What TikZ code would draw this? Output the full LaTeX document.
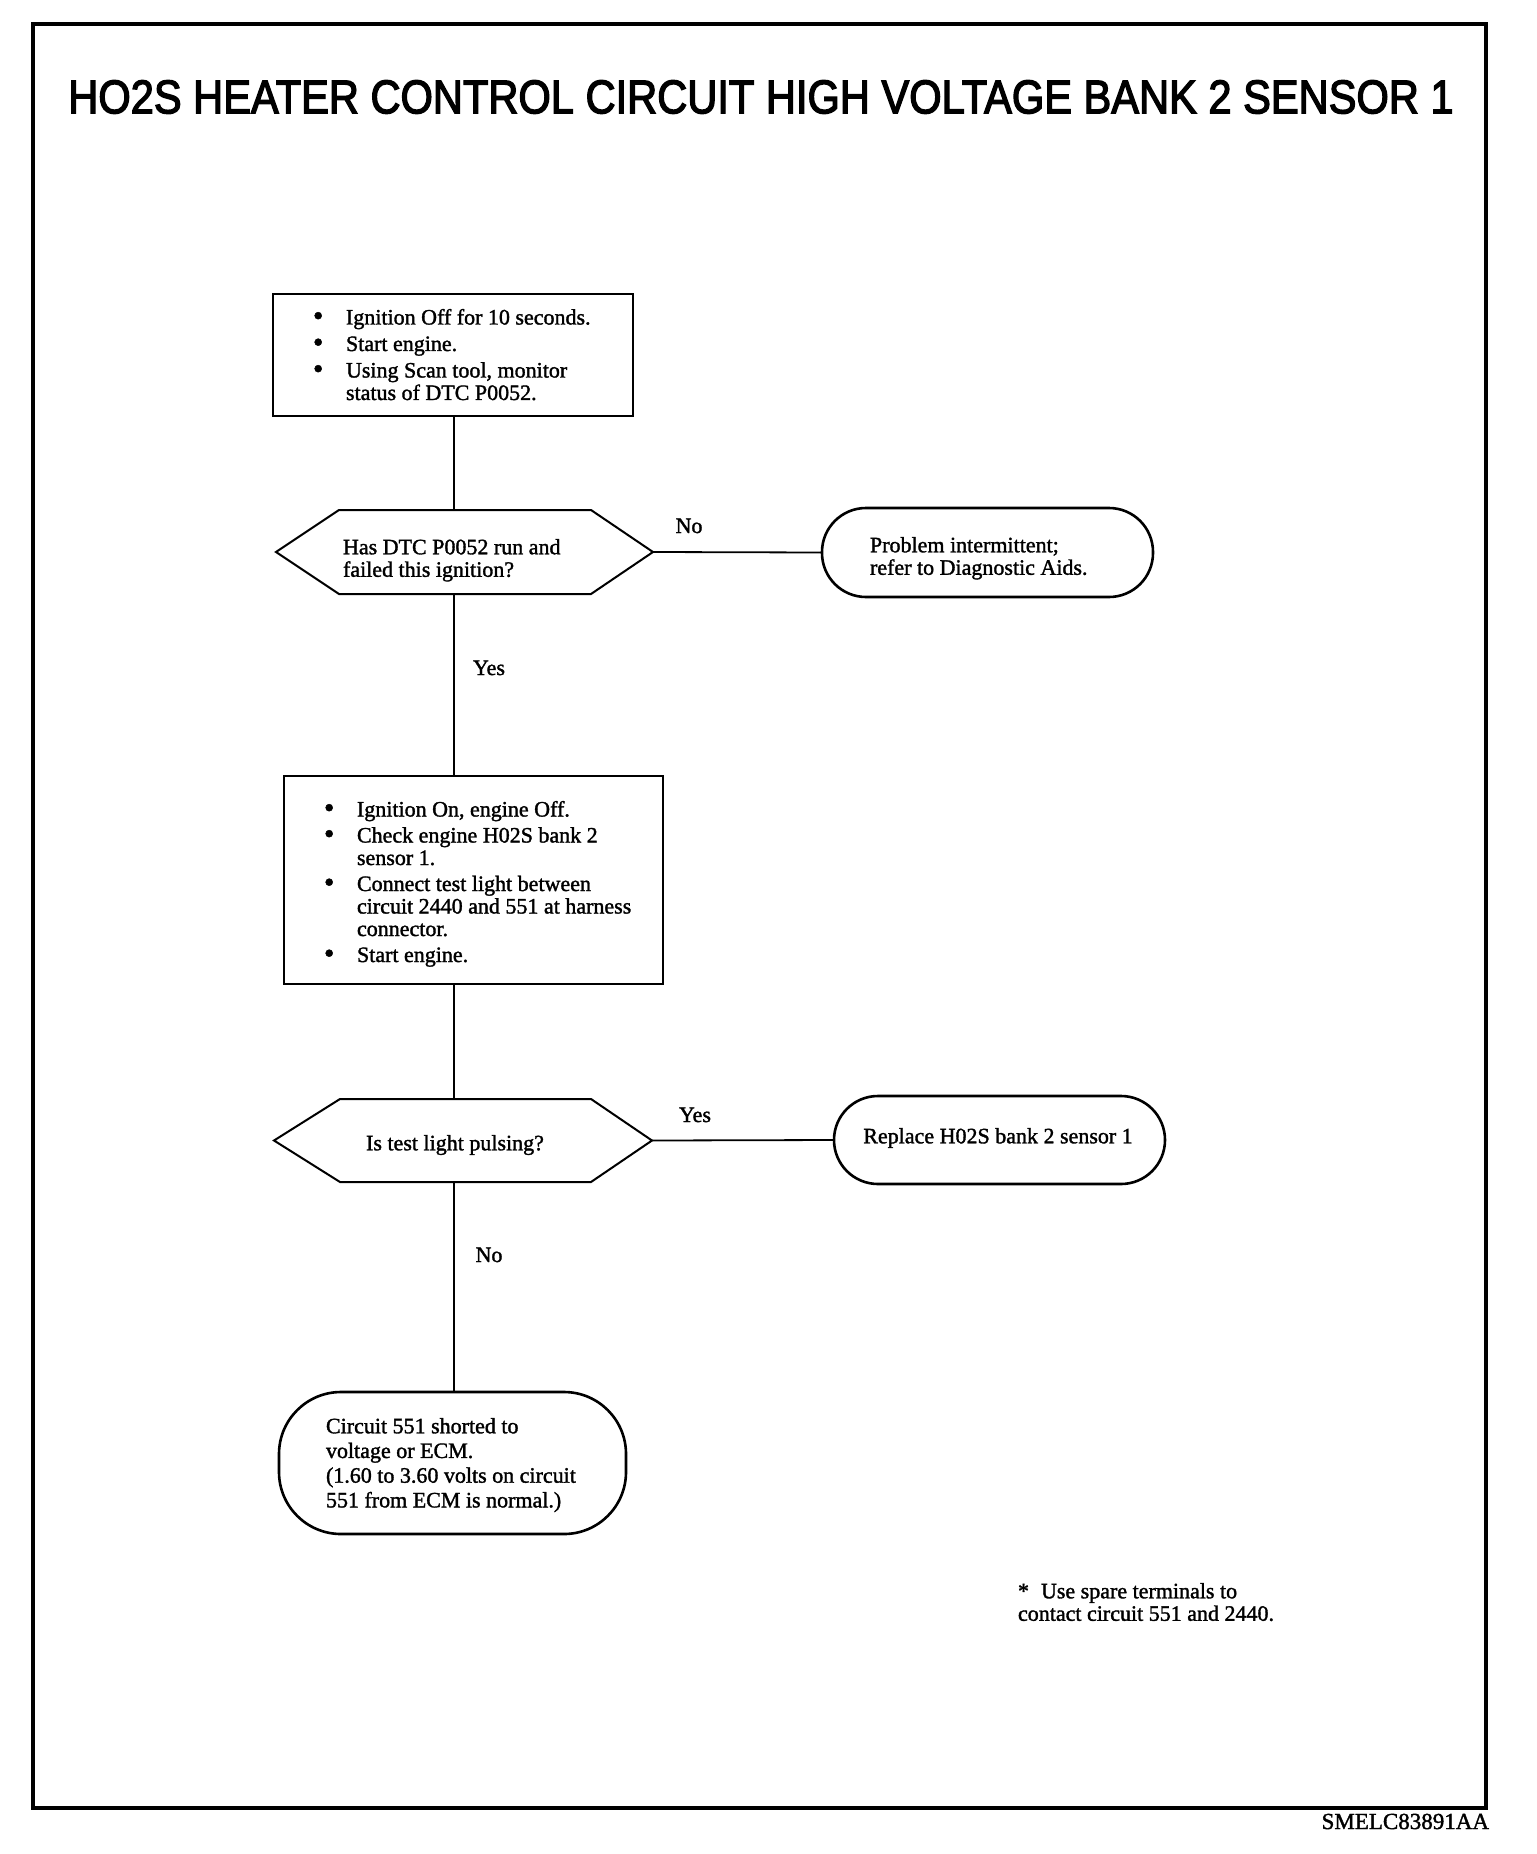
\documentclass[tikz,border=0pt]{standalone}
\usepackage{fontspec}
\usepackage{graphicx}
\setmainfont{Liberation Serif}[FakeBold=1.5]
\newfontfamily\titlefont{Liberation Sans}[FakeBold=3]
\newcommand{\bul}{\makebox[33pt][l]{\raisebox{-1pt}{\scalebox{1.35}{\textbullet}}}}
\newcommand{\ind}{\hspace*{33pt}}
\begin{document}
\begin{tikzpicture}[x=1pt,y=-1pt,
  every node/.style={inner sep=0pt, outer sep=0pt},
  procbox/.style={draw, line width=2pt, rectangle},
  termshape/.style={draw, line width=2.6pt, rectangle, rounded corners=#1},
  hexnode/.style={rectangle},
  hexline/.style={line width=2pt, line join=miter},
  body/.style={font=\fontsize{22}{22.5}\selectfont, align=left},
  lbl/.style={font=\fontsize{22}{22}\selectfont},
  conn/.style={line width=1.8pt},
]
\useasboundingbox (0,0) rectangle (1536,1854);
% frame
\draw[line width=3.5pt] (33,24) rectangle (1486,1808);
\node (title) at (761,97) {\resizebox{1385pt}{33pt}{\titlefont HO2S HEATER CONTROL CIRCUIT HIGH VOLTAGE BANK 2 SENSOR 1}};

% box 1
\node[procbox, minimum width=360pt, minimum height=122pt] (b1) at (453,355) {};
\node[body, anchor=north west] (b1t) at (313,309) {\bul Ignition Off for 10 seconds.\\[4pt]\bul Start engine.\\[4pt]\bul Using Scan tool, monitor\\\ind status of DTC P0052.};

% decision 1
\node[hexnode, minimum width=377pt, minimum height=84pt] (d1) at (464.5,552) {};
\draw[hexline] (d1.west) -- ([xshift=63pt]d1.north west) -- ([xshift=-62pt]d1.north east) -- (d1.east) -- ([xshift=-62pt]d1.south east) -- ([xshift=63pt]d1.south west) -- cycle;
\node[body, anchor=north west] (d1t) at (343,539) {Has DTC P0052 run and\\failed this ignition?};

% terminal 1
\node[termshape=44pt, minimum width=331pt, minimum height=89pt] (t1) at (987.5,552.5) {};
\node[body, anchor=north west] (t1t) at (870,537) {Problem intermittent;\\refer to Diagnostic Aids.};

% box 2
\node[procbox, minimum width=379pt, minimum height=208pt] (b2) at (473.5,880) {};
\node[body, anchor=north west] (b2t) at (324,801) {\bul Ignition On, engine Off.\\[3.5pt]\bul Check engine H02S bank 2\\\ind sensor 1.\\[3.5pt]\bul Connect test light between\\\ind circuit 2440 and 551 at harness\\\ind connector.\\[3.5pt]\bul Start engine.};

% decision 2
\node[hexnode, minimum width=378pt, minimum height=83pt] (d2) at (463,1140.5) {};
\draw[hexline] (d2.west) -- ([xshift=66pt]d2.north west) -- ([xshift=-61pt]d2.north east) -- (d2.east) -- ([xshift=-61pt]d2.south east) -- ([xshift=66pt]d2.south west) -- cycle;
\node[body, anchor=center] (d2t) at (455,1145) {Is test light pulsing?};

% terminal 2
\node[termshape=44pt, minimum width=331pt, minimum height=88pt] (t2) at (999.5,1140) {};
\node[body, anchor=center] (t2t) at (998,1138) {Replace H02S bank 2 sensor 1};

% terminal 3
\node[termshape=62pt, minimum width=347pt, minimum height=142pt] (t3) at (452.5,1463) {};
\node[body, anchor=north west, font=\fontsize{22}{24.7}\selectfont] (t3t) at (326,1418) {Circuit 551 shorted to\\voltage or ECM.\\(1.60 to 3.60 volts on circuit\\551 from ECM is normal.)};

% connectors
\coordinate (spine) at (454,0);
\draw[conn] (b1.south -| spine) -- (d1.north -| spine);
\draw[conn] (d1.south -| spine) -- (b2.north -| spine);
\draw[conn] (b2.south -| spine) -- (d2.north -| spine);
\draw[conn] (d2.south -| spine) -- (t3.north -| spine);
\draw[conn] (d1.east) -- (t1.west);
\draw[conn] (d2.east) -- (t2.west);

% labels
\node[lbl, anchor=base] (l1) at (689,533) {No};
\node[lbl, anchor=base] (l2) at (489,675) {Yes};
\node[lbl, anchor=base] (l3) at (695,1122) {Yes};
\node[lbl, anchor=base] (l4) at (489,1262) {No};

% note
\node[body, anchor=north west] (note) at (1018,1583) {\makebox[23pt][l]{*}Use spare terminals to\\contact circuit 551 and 2440.};
\node[font=\fontsize{23}{23}\selectfont, anchor=base east] (code) at (1489,1829) {SMELC83891AA};
\end{tikzpicture}
\end{document}
